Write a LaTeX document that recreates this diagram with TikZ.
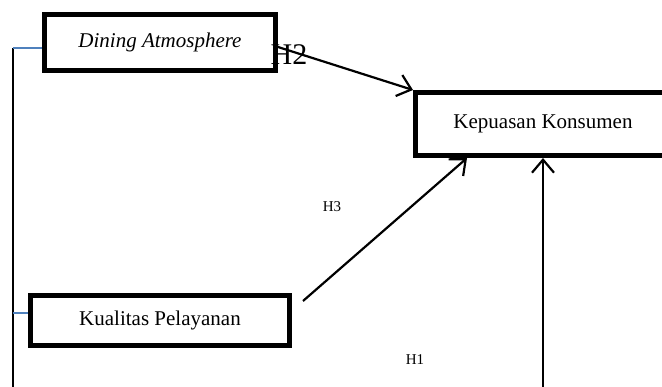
\documentclass[tikz,border=0pt]{standalone}
\usepackage{fontspec}
\setmainfont{Liberation Serif}
\usetikzlibrary{arrows.meta}

\definecolor{tickblue}{RGB}{79,129,189}
\tikzset{
  varbox/.style={draw, line width=5pt, inner sep=0pt, font=\fontsize{21}{24}\selectfont},
  link/.style={line width=2.2pt, -{Straight Barb[length=13pt,width=22pt,line width=2.2pt]}},
  hyp/.style={font=\fontsize{15}{17}\selectfont, inner sep=0pt},
  tick/.style={tickblue, line width=1.6pt}
}

\begin{document}
\begin{tikzpicture}[x=1pt,y=-1pt]
  \useasboundingbox (0,0) rectangle (662,387);
  \clip (0,0) rectangle (662,387);
  % variables
  \node[varbox, minimum width=231pt, minimum height=56pt] (dining) at (160,42.5) {\itshape Dining Atmosphere};
  \node[varbox, minimum width=255pt, minimum height=63pt] (kepuasan) at (543,124) {Kepuasan Konsumen};
  \node[varbox, minimum width=259pt, minimum height=50pt] (kualitas) at (160,320.5) {Kualitas Pelayanan};
  % hypothesis labels
  \node[font=\fontsize{30}{32}\selectfont, inner sep=0pt] (h2) at (289,55) {H2};
  \node[hyp] (h3) at (332,207) {H3};
  \node[hyp] (h1) at (415,360) {H1};
  % left bracket
  \coordinate (top) at (12.5,48);
  \coordinate (bottom) at (12.5,387);
  \draw[line width=2pt] (top) -- (bottom);
  \draw[tick] (top) -- (top -| dining.west);
  \draw[tick] (kualitas.west -| top) ++(0,-7.5) -- ++(15.5,0);
  % arrows to Kepuasan Konsumen
  \coordinate (h2start) at (278,47);
  \coordinate (h3start) at (303,301);
  \coordinate (h1start) at (543,387);
  \draw[link] (h2start) -- (kepuasan.north west);
  \draw[link] (h3start) -- ([xshift=54pt]kepuasan.south west);
  \draw[link] (h1start) -- (h1start |- kepuasan.south);
\end{tikzpicture}
\end{document}
